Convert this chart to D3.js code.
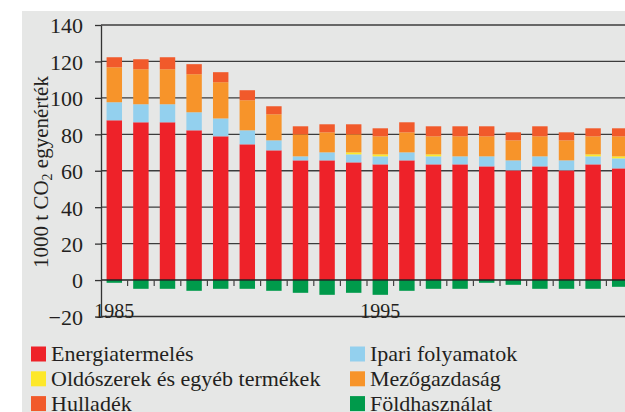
<!DOCTYPE html>
<html>
<head>
<meta charset="utf-8">
<script src="https://cdn.jsdelivr.net/npm/d3@7/dist/d3.min.js"></script>
<style>
    body { margin: 0; background: #fff; }
    text { font-family: "Liberation Serif", "Times New Roman", serif; fill: #231f20; }
</style>
</head>
<body>
<div id="chart"></div>
<script>
const years = d3.range(1985, 2005);

// ezer tonna CO2 egyenérték, leolvasva
const energiatermeles = [87.7, 86.6, 86.6, 82.2, 78.9, 74.5, 71.2, 65.7, 65.7, 64.6,
    63.5, 65.7, 63.5, 63.5, 62.4, 60.2, 62.4, 60.2, 63.5, 61.3];
const ipariFolyamatok = [9.9, 9.9, 9.9, 9.9, 9.8, 7.7, 5.5, 2.2, 4.4, 4.4,
    4.4, 4.4, 4.4, 4.4, 5.5, 5.5, 5.5, 5.5, 4.4, 5.5];
const oldoszerek = [0, 0, 0, 0, 0, 0, 0, 0, 0, 1.1,
    1.1, 0, 1.1, 0, 0, 0, 0, 0, 1.1, 1.1];
const mezogazdasag = [19.2, 19.2, 19.2, 20.9, 19.9, 16.5, 14.3, 12.1, 11.0, 9.9,
    9.9, 11.0, 9.9, 11.0, 11.0, 11.0, 11.0, 11.0, 9.9, 11.0];
const hulladek = [5.5, 5.5, 6.6, 5.5, 5.5, 5.5, 4.4, 4.4, 4.4, 5.5,
    4.4, 5.5, 5.5, 5.5, 5.5, 4.4, 5.5, 4.4, 4.4, 4.4];
const foldhasznalat = [-1.5, -4.8, -4.8, -5.9, -4.8, -4.8, -5.9, -7.0, -8.1, -7.0,
    -8.1, -5.9, -4.8, -4.8, -1.5, -2.6, -4.8, -4.8, -4.8, -3.7];

const yTicks = [-20, 0, 20, 40, 60, 80, 100, 120, 140];
const xLabels = [1985, 1995];

const series = [
    { key: 'energia', name: 'Energiatermelés', values: energiatermeles, color: '#ee2229' },
    { key: 'ipari', name: 'Ipari folyamatok', values: ipariFolyamatok, color: '#93d0ee' },
    { key: 'oldo', name: 'Oldószerek és egyéb termékek', values: oldoszerek, color: '#fde82a' },
    { key: 'mezo', name: 'Mezőgazdaság', values: mezogazdasag, color: '#f7942a' },
    { key: 'hull', name: 'Hulladék', values: hulladek, color: '#f15a2b' },
    { key: 'fold', name: 'Földhasználat', values: foldhasznalat, color: '#009a4b' }
];

// legend order: two columns, read row by row
const legendOrder = ['energia', 'ipari', 'oldo', 'mezo', 'hull', 'fold'];

const config = {
    width: 625,
    height: 412,
    panel: { left: 22, top: 11 },
    axisX: 101,
    plotRight: 633,
    yTop: 25,
    yBottom: 316.5
};

const table = years.map((year, i) => {
    const row = { year };
    series.forEach(s => row[s.key] = s.values[i]);
    return row;
});

const positiveKeys = ['energia', 'ipari', 'oldo', 'mezo', 'hull'];
const stacked = d3.stack().keys(positiveKeys)(table);

const x = d3.scaleBand()
    .domain(years)
    .range([config.axisX, config.plotRight])
    .paddingInner(0.42)
    .paddingOuter(0.21);

const y = d3.scaleLinear()
    .domain([-20, 140])
    .range([config.yBottom, config.yTop]);

const colorOf = key => series.find(s => s.key === key).color;

const svg = d3.select('#chart').append('svg')
    .attr('width', config.width)
    .attr('height', config.height);

// grey panel
svg.append('rect')
    .attr('x', config.panel.left)
    .attr('y', config.panel.top)
    .attr('width', config.width - config.panel.left)
    .attr('height', config.height - config.panel.top)
    .attr('fill', '#e6e7e6');

// gridlines
svg.append('g')
    .selectAll('line')
    .data(yTicks.filter(t => t !== 0))
    .enter().append('line')
        .attr('x1', config.axisX)
        .attr('x2', config.width)
        .attr('y1', d => y(d))
        .attr('y2', d => y(d))
        .attr('stroke', d => d === -20 ? '#333' : '#3c3c3c')
        .attr('stroke-width', 1.3);

// stacked positive bars
svg.append('g')
    .selectAll('g')
    .data(stacked)
    .enter().append('g')
        .attr('fill', d => colorOf(d.key))
    .selectAll('rect')
    .data(d => d)
    .enter().append('rect')
        .attr('x', d => x(d.data.year))
        .attr('width', x.bandwidth())
        .attr('y', d => y(d[1]))
        .attr('height', d => y(d[0]) - y(d[1]));

// negative land use bars
svg.append('g')
    .attr('fill', colorOf('fold'))
    .selectAll('rect')
    .data(table)
    .enter().append('rect')
        .attr('x', d => x(d.year))
        .attr('width', x.bandwidth())
        .attr('y', y(0))
        .attr('height', d => y(d.fold) - y(0));

// zero line with small ticks between the bars
svg.append('line')
    .attr('x1', config.axisX)
    .attr('x2', config.width)
    .attr('y1', y(0))
    .attr('y2', y(0))
    .attr('stroke', '#222')
    .attr('stroke-width', 1.4);

svg.append('g')
    .selectAll('line')
    .data(years.slice(1))
    .enter().append('line')
        .attr('x1', d => x(d) - x.step() * x.paddingInner() / 2)
        .attr('x2', d => x(d) - x.step() * x.paddingInner() / 2)
        .attr('y1', y(0))
        .attr('y2', y(0) + 6)
        .attr('stroke', '#444')
        .attr('stroke-width', 1.2);

// y axis
const yAxis = svg.append('g')
    .attr('transform', 'translate(' + config.axisX + ',0)')
    .call(d3.axisLeft(y).tickValues(yTicks).tickSize(6).tickSizeOuter(0).tickPadding(12));
yAxis.select('.domain').attr('stroke', '#333').attr('stroke-width', 1.3);
yAxis.selectAll('.tick line').attr('stroke', '#333').attr('stroke-width', 1.3);
yAxis.selectAll('.tick text')
    .attr('font-size', 22)
    .attr('font-family', '"Liberation Serif", serif')
    .attr('fill', '#231f20')
    .attr('dy', '0.36em');

// year labels
svg.append('g')
    .selectAll('text')
    .data(xLabels)
    .enter().append('text')
        .attr('x', d => x(d) + x.bandwidth() / 2)
        .attr('y', 318)
        .attr('text-anchor', 'middle')
        .attr('font-size', 20)
        .text(d => d);

// y axis title
const title = svg.append('text')
    .attr('transform', 'translate(48,172) rotate(-90)')
    .attr('text-anchor', 'middle')
    .attr('font-size', 21);
title.append('tspan').text('1000 t CO');
title.append('tspan').attr('font-size', 14).attr('dy', 4).text('2');
title.append('tspan').attr('dy', -4).text(' egyenérték');

// legend
const legend = svg.append('g')
    .selectAll('g')
    .data(legendOrder.map(k => series.find(s => s.key === k)))
    .enter().append('g')
        .attr('transform', (d, i) =>
            'translate(' + (i % 2 === 0 ? 31 : 350) + ',' + (346.5 + Math.floor(i / 2) * 24.8) + ')');

legend.append('rect')
    .attr('width', 15)
    .attr('height', 15)
    .attr('fill', d => d.color);

legend.append('text')
    .attr('x', 20)
    .attr('y', 14.5)
    .attr('font-size', 22)
    .text(d => d.name);
</script>
</body>
</html>
